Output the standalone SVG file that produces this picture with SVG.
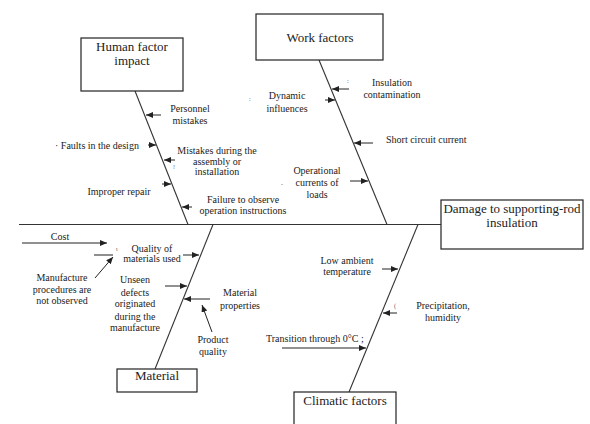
<svg xmlns="http://www.w3.org/2000/svg" width="590" height="424" viewBox="0 0 590 424" font-family="'Liberation Serif', 'Times New Roman', Times, serif">
<defs>
<marker id="ah" markerUnits="userSpaceOnUse" markerWidth="8" markerHeight="6" refX="7" refY="3" orient="auto">
<path d="M0,0 L7,3 L0,6 z" fill="#222"/>
</marker>
<style>
text{font-family:'Liberation Serif','Times New Roman',Times,serif}
.box{fill:#fff;stroke:#222;stroke-width:1.2}
.bone{stroke:#333;stroke-width:1.1;fill:none}
.arr{stroke:#222;stroke-width:1;fill:none;marker-end:url(#ah)}
.t{font-size:10px;fill:#222}
.m{text-anchor:middle}
.h{font-size:13px;fill:#222;text-anchor:middle}
.s{font-size:6px;fill:#555}
</style>
</defs>
<rect width="590" height="424" fill="#fff"/>
<g id="connectors">
<line class="bone" x1="19" y1="224.5" x2="441" y2="224.5"/>
<line class="bone" x1="135" y1="91" x2="188" y2="224.5"/>
<line class="bone" x1="319" y1="60" x2="387" y2="224.5"/>
<line class="bone" x1="213" y1="224.5" x2="155" y2="369"/>
<line class="bone" x1="418" y1="224.5" x2="349" y2="392"/>
<line class="arr" x1="161" y1="115" x2="146" y2="115"/>
<line class="arr" x1="148" y1="145" x2="156" y2="145"/>
<line class="arr" x1="175" y1="160" x2="164" y2="160"/>
<line class="arr" x1="162" y1="184" x2="171" y2="184"/>
<line class="arr" x1="192" y1="207" x2="182" y2="207"/>
<line class="arr" x1="349" y1="89" x2="332" y2="89"/>
<line class="arr" x1="325" y1="100" x2="335" y2="100"/>
<line class="arr" x1="373" y1="143" x2="354" y2="143"/>
<line class="arr" x1="350" y1="181" x2="368" y2="181"/>
<line class="arr" x1="22" y1="243" x2="107" y2="243"/>
<line class="bone" x1="94" y1="255" x2="113" y2="255"/>
<line class="arr" x1="183" y1="255" x2="199" y2="255"/>
<line class="arr" x1="95" y1="278" x2="113" y2="257"/>
<line class="arr" x1="165" y1="286" x2="187" y2="286"/>
<line class="arr" x1="210" y1="299" x2="184" y2="299"/>
<line class="arr" x1="212" y1="332" x2="202" y2="305"/>
<line class="arr" x1="382" y1="269" x2="398" y2="269"/>
<line class="arr" x1="397" y1="313" x2="383" y2="313"/>
<line class="arr" x1="282" y1="348" x2="366" y2="348"/>
</g>
<g id="human">
<rect class="box" x="81" y="38" width="102" height="53"/>
<text class="h" x="132" y="51">Human factor</text>
<text class="h" x="132" y="65">impact</text>
</g>
<g id="work">
<rect class="box" x="256" y="14" width="127" height="46"/>
<text class="h" x="320" y="42">Work factors</text>
</g>
<g id="damage">
<rect class="box" x="441" y="200" width="142" height="49"/>
<text class="h" x="512" y="213">Damage to supporting-rod</text>
<text class="h" x="512" y="227">insulation</text>
</g>
<g id="material">
<rect class="box" x="117" y="369" width="80" height="23"/>
<text class="h" x="157" y="380">Material</text>
</g>
<g id="climatic">
<rect class="box" x="294" y="392" width="102" height="40"/>
<text class="h" x="345" y="405">Climatic factors</text>
</g>
<g id="labels">
<text class="t m" x="190" y="111.5">Personnel</text>
<text class="t m" x="190" y="123.5">mistakes</text>
<text class="t" x="55" y="148.5">· Faults in the design</text>
<text class="t m" x="217" y="153.5">Mistakes during the</text>
<text class="t m" x="217" y="164.5">assembly or</text>
<text class="t m" x="217" y="174.5">installation</text>
<text class="s" x="173" y="169">!</text>
<text class="t m" x="119" y="194.5">Improper repair</text>
<text class="t m" x="243" y="202.5">Failure to observe</text>
<text class="t m" x="243" y="213.5">operation instructions</text>
<text class="t m" x="392" y="85.5">Insulation</text>
<text class="t m" x="392" y="97.5">contamination</text>
<text class="s" x="347" y="83">:</text>
<text class="t m" x="287" y="98.5">Dynamic</text>
<text class="t m" x="287" y="111.5">influences</text>
<text class="s" x="249" y="101">:</text>
<text class="t" x="386" y="142.5">Short circuit current</text>
<text class="t m" x="317" y="173.5">Operational</text>
<text class="t m" x="317" y="185.5">currents of</text>
<text class="t m" x="317" y="197.5">loads</text>
<text class="s" x="281" y="186">-</text>
<text class="t m" x="60" y="239.5">Cost</text>
<text class="s" x="116" y="251">ι</text>
<text class="t m" x="152" y="251.5">Quality of</text>
<text class="t m" x="152" y="261.5">materials used</text>
<text class="t m" x="62" y="280.5">Manufacture</text>
<text class="t m" x="62" y="292.5">procedures are</text>
<text class="t m" x="62" y="303.5">not observed</text>
<text class="t m" x="135" y="282.5">Unseen</text>
<text class="t m" x="135" y="295.5">defects</text>
<text class="t m" x="135" y="306.5">originated</text>
<text class="t m" x="135" y="319.5">during the</text>
<text class="t m" x="135" y="330.5">manufacture</text>
<text class="t m" x="240" y="295.5">Material</text>
<text class="t m" x="240" y="308.5">properties</text>
<text class="t m" x="213" y="342.5">Product</text>
<text class="t m" x="213" y="354.5">quality</text>
<text class="t m" x="347" y="263.5">Low ambient</text>
<text class="t m" x="347" y="274.5">temperature</text>
<text class="t m" x="443" y="308.5">Precipitation,</text>
<text class="t m" x="443" y="320.5">humidity</text>
<text class="s" x="394" y="308">(</text>
<text class="t" x="266" y="341.5">Transition through 0°C ;</text>
</g>
</svg>
